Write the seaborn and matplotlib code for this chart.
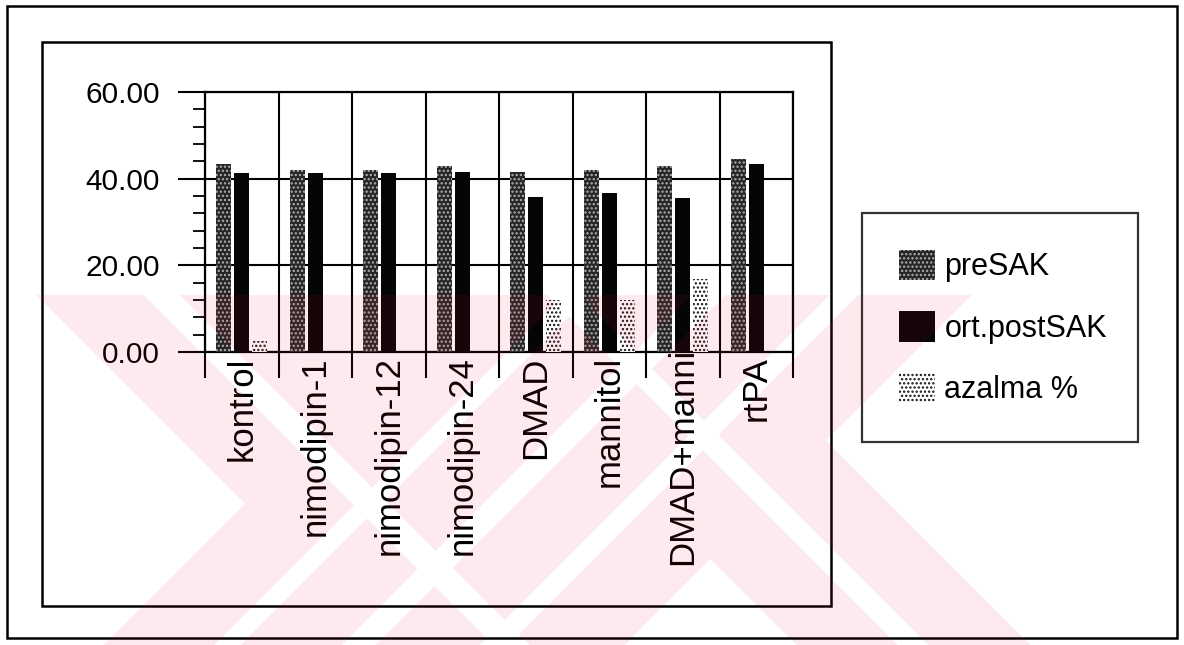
import numpy as np
import pandas as pd
import matplotlib
matplotlib.use("Agg")
import matplotlib.pyplot as plt
import seaborn as sns
from matplotlib.patches import Rectangle, Patch
from matplotlib.ticker import MultipleLocator, FixedLocator, FuncFormatter

# --- data -----------------------------------------------------------------
categories = ["kontrol", "nimodipin-1", "nimodipin-12", "nimodipin-24",
              "DMAD", "mannitol", "DMAD+mannitol", "rtPA"]
series = ["preSAK", "ort.postSAK", "azalma %"]
pre_sak = [43.4, 42.1, 42.1, 42.9, 41.5, 42.1, 42.9, 44.5]
post_sak = [41.3, 41.3, 41.4, 41.5, 35.8, 36.7, 35.5, 43.4]
azalma = [2.5, 0.0, 0.0, 0.0, 12.1, 12.1, 16.8, 0.0]
y_ticks = [0, 20, 40, 60]

df = pd.DataFrame({
    "grup": np.repeat(categories, 3),
    "seri": series * len(categories),
    "deger": np.ravel(np.column_stack([pre_sak, post_sak, azalma])),
})

# --- figure -----------------------------------------------------------------
W, H, DPI = 1184, 645, 100
sns.set_theme(style="white")
plt.rcParams["font.family"] = ["Liberation Sans", "DejaVu Sans"]
plt.rcParams["hatch.linewidth"] = 1.1

fig = plt.figure(figsize=(W / DPI, H / DPI), dpi=DPI, facecolor="white")


def fx(px):
    return px / W


def fy(py):
    return 1 - py / H


AX_TOP, AX_BOTTOM = 92, 352
FRAME_BOTTOM = 606
ax = fig.add_axes([fx(205), fy(AX_BOTTOM), fx(793) - fx(205),
                   fy(AX_TOP) - fy(AX_BOTTOM)])
ax.set_facecolor("white")

fills = {"preSAK": "#262626", "ort.postSAK": "#050505", "azalma %": "white"}
hatch_col = {"preSAK": "#b0b0b0", "ort.postSAK": "#050505", "azalma %": "#111111"}
hatches = {"preSAK": "....", "ort.postSAK": "", "azalma %": "...."}

sns.barplot(data=df, x="grup", y="deger", hue="seri", order=categories,
            hue_order=series, palette=fills, width=0.735, gap=0.17,
            errorbar=None, legend=False, ax=ax, zorder=3)

for cont, name in zip(ax.containers, series):
    for bar in cont:
        bar.set_hatch(hatches[name])
        bar.set_edgecolor(hatch_col[name])
        bar.set_linewidth(0)

ax.set_xlim(-0.5, len(categories) - 0.5)
ax.set_ylim(0, 60)
ax.set_xlabel("")
ax.set_ylabel("")

# y axis: majors every 20, minors every 4, ticks pointing out
ax.yaxis.set_major_locator(FixedLocator(y_ticks))
ax.yaxis.set_minor_locator(MultipleLocator(4))
ax.yaxis.set_major_formatter(FuncFormatter(lambda v, p: f"{v:.2f}"))
ax.tick_params(axis="y", which="major", length=19.5, width=1.5, color="black",
               direction="out", pad=13, labelsize=21.5, labelcolor="black", left=True)
ax.tick_params(axis="y", which="minor", length=8.5, width=1.3, color="black",
               direction="out", left=True)

# x axis: separators at category boundaries, labels at centres
ax.xaxis.set_minor_locator(FixedLocator(np.arange(-0.5, len(categories), 1.0)))
ax.tick_params(axis="x", which="minor", length=18.5, width=1.5, color="black",
               direction="out", bottom=True)
ax.tick_params(axis="x", which="major", length=0, pad=3, labelsize=25,
               labelcolor="black", bottom=True)
for lab in ax.get_xticklabels():
    lab.set_rotation(90)
    lab.set_va("top")
    lab.set_ha("center")

ax.grid(False)
ax.grid(True, axis="y", which="major", color="black", linewidth=1.5, zorder=1)
ax.grid(True, axis="x", which="minor", color="black", linewidth=1.5, zorder=1)
ax.set_axisbelow(True)
for sp in ax.spines.values():
    sp.set_visible(True)
    sp.set_color("black")
    sp.set_linewidth(1.6)

# legend
handles = [Patch(facecolor=fills[s], edgecolor=hatch_col[s], hatch=hatches[s],
                 linewidth=0, label=s) for s in series]
leg = fig.legend(handles=handles, loc="upper left",
                 bbox_to_anchor=(fx(862), fy(213), fx(1138) - fx(862), 0.0),
                 mode="expand", fontsize=22, frameon=True, fancybox=False,
                 borderpad=1.2, labelspacing=0.95, handlelength=1.2,
                 handleheight=1.15, handletextpad=0.3, borderaxespad=0)
leg.get_frame().set_edgecolor("black")
leg.get_frame().set_linewidth(1.6)
for t in leg.get_texts():
    t.set_color("black")

# outer and inner frames
fig.patches.append(Rectangle((fx(7), fy(638)), fx(1177) - fx(7), fy(6) - fy(638),
                             transform=fig.transFigure, fill=False,
                             edgecolor="black", linewidth=1.8, zorder=0))
fig.patches.append(Rectangle((fx(42), fy(FRAME_BOTTOM)), fx(831) - fx(42),
                             fy(42) - fy(FRAME_BOTTOM),
                             transform=fig.transFigure, fill=False,
                             edgecolor="black", linewidth=1.8, zorder=0))

# a category label too long for the space under the axis is pushed up and
# cut off where it runs under the plot area
fig.canvas.draw()
renderer = fig.canvas.get_renderer()
limit = H - FRAME_BOTTOM + 41
below_axis = Rectangle((0, 0), 1, fy(AX_BOTTOM), transform=fig.transFigure,
                       fill=False, visible=False)
for i, lab in enumerate(ax.get_xticklabels()):
    bb = lab.get_window_extent(renderer)
    if bb.y0 < limit:
        shift = limit - bb.y0
        lab.set_visible(False)
        xd = ax.transData.transform((i, 0))[0]
        t = fig.text(xd / W, (bb.y1 + shift) / H, lab.get_text(), rotation=90,
                     ha="center", va="top", fontsize=25, color="black")
        t.set_clip_path(below_axis)
        t.set_clip_on(True)

# faint red watermark laid over the lower part of the sheet
yy, xx = np.mgrid[0:H, 0:W].astype(float)
d = xx - yy   # "\" direction
s = xx + yy   # "/" direction
mark = yy >= 295
mark &= ~((d < -258) & (s < 748))
mark &= ~((s > 1268) & (d < 152))
mark &= ~((s > 1265) & (d > 385))
for lo, hi in [(858, 885), (985, 1020), (1123, 1153)]:
    mark &= ~((s > lo) & (s < hi))
for lo, hi in [(-152, -115), (252, 284)]:
    mark &= ~((d > lo) & (d < hi))
overlay = np.zeros((H, W, 4))
overlay[..., 0] = 225 / 255
overlay[..., 1] = 20 / 255
overlay[..., 2] = 60 / 255
overlay[..., 3] = np.where(mark, 0.09, 0.0)
fig.figimage(overlay, xo=0, yo=0, origin="upper", zorder=10)

fig.savefig("out.png", dpi=DPI, facecolor="white")
